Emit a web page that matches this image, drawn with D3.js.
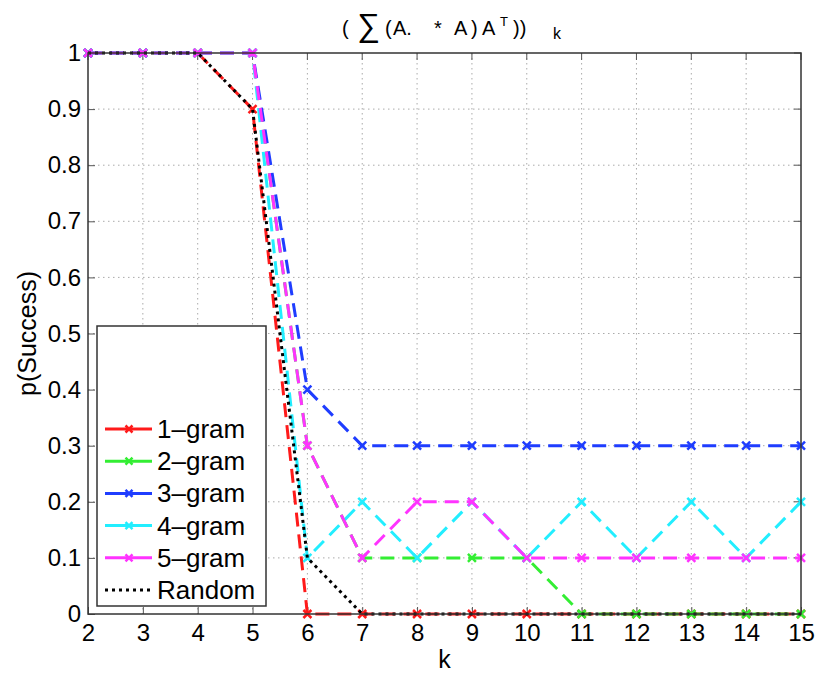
<!DOCTYPE html>
<html>
<head>
<meta charset="utf-8">
<script src="https://cdn.jsdelivr.net/npm/d3@7"></script>
<style>
  html, body { margin: 0; padding: 0; background: #fff; }
  svg { display: block; }
  text { font-family: "Liberation Sans", Arial, Helvetica, sans-serif; fill: #000; }
</style>
</head>
<body>
<svg id="chart" width="817" height="675"></svg>
<script>
// k values on the x axis
const kValues = [2, 3, 4, 5, 6, 7, 8, 9, 10, 11, 12, 13, 14, 15];

// Success probability for each n-gram model and the random baseline
const gram1 = [1, 1, 1, 0.9, 0, 0, 0, 0, 0, 0, 0, 0, 0, 0];
const gram2 = [1, 1, 1, 1, 0.3, 0.1, 0.1, 0.1, 0.1, 0, 0, 0, 0, 0];
const gram3 = [1, 1, 1, 1, 0.4, 0.3, 0.3, 0.3, 0.3, 0.3, 0.3, 0.3, 0.3, 0.3];
const gram4 = [1, 1, 1, 1, 0.1, 0.2, 0.1, 0.2, 0.1, 0.2, 0.1, 0.2, 0.1, 0.2];
const gram5 = [1, 1, 1, 1, 0.3, 0.1, 0.2, 0.2, 0.1, 0.1, 0.1, 0.1, 0.1, 0.1];
const randomBaseline = [1, 1, 1, 0.9, 0.1, 0, 0, 0, 0, 0, 0, 0, 0, 0];

const seriesNames = ["1\u2013gram", "2\u2013gram", "3\u2013gram", "4\u2013gram", "5\u2013gram", "Random"];
const seriesColors = ["#ff1a1a", "#33ee33", "#1f3dff", "#22eeff", "#ff33ff", "#000000"];

const yTicks = [0, 0.1, 0.2, 0.3, 0.4, 0.5, 0.6, 0.7, 0.8, 0.9, 1];
const yTickLabels = ["0", "0.1", "0.2", "0.3", "0.4", "0.5", "0.6", "0.7", "0.8", "0.9", "1"];

const series = [gram1, gram2, gram3, gram4, gram5, randomBaseline].map((vals, i) => ({
  name: seriesNames[i],
  color: seriesColors[i],
  dotted: i === 5,
  points: vals.map((v, j) => ({ k: kValues[j], v }))
}));

const svg = d3.select("#chart");
const margin = { left: 88, right: 16, top: 53, bottom: 61 };
const W = 817, H = 675;
const plotW = W - margin.left - margin.right;
const plotH = H - margin.top - margin.bottom;

const x = d3.scaleLinear().domain([2, 15]).range([0, plotW]);
const y = d3.scaleLinear().domain([0, 1]).range([plotH, 0]);

const g = svg.append("g").attr("transform", `translate(${margin.left},${margin.top})`);

// dotted grid
g.append("g").selectAll("line").data(kValues.slice(1, -1)).join("line")
  .attr("x1", d => x(d)).attr("x2", d => x(d))
  .attr("y1", 0).attr("y2", plotH)
  .attr("stroke", "#aaa").attr("stroke-width", 1).attr("stroke-dasharray", "1.5,3.5");
g.append("g").selectAll("line").data(yTicks.slice(1, -1)).join("line")
  .attr("x1", 0).attr("x2", plotW)
  .attr("y1", d => y(d)).attr("y2", d => y(d))
  .attr("stroke", "#aaa").attr("stroke-width", 1).attr("stroke-dasharray", "1.5,3.5");

// axes with inward ticks
const xAxis = d3.axisBottom(x).tickValues(kValues).tickSize(-7).tickPadding(10).tickFormat(d3.format("d"));
const yAxis = d3.axisLeft(y).tickValues(yTicks).tickSize(-7).tickPadding(7)
  .tickFormat((d, i) => yTickLabels[i]);

const gx = g.append("g").attr("transform", `translate(0,${plotH})`).call(xAxis);
const gy = g.append("g").call(yAxis);
[gx, gy].forEach(a => {
  a.select(".domain").remove();
  a.selectAll(".tick line").attr("stroke", "#555").attr("stroke-width", 1);
  a.selectAll(".tick text").style("font-size", "24px").attr("fill", "#000");
});

// mirrored ticks on top and right
g.append("g").selectAll("line").data(kValues).join("line")
  .attr("x1", d => x(d)).attr("x2", d => x(d)).attr("y1", 0).attr("y2", 7)
  .attr("stroke", "#555");
g.append("g").selectAll("line").data(yTicks).join("line")
  .attr("x1", plotW).attr("x2", plotW - 7).attr("y1", d => y(d)).attr("y2", d => y(d))
  .attr("stroke", "#555");

// series lines
const line = d3.line().x(d => x(d.k)).y(d => y(d.v));
const lines = g.append("g");
series.forEach(s => {
  lines.append("path").datum(s.points)
    .attr("d", line)
    .attr("fill", "none")
    .attr("stroke", s.color)
    .attr("stroke-width", 3)
    .attr("stroke-dasharray", s.dotted ? "3,4" : "14,8");
  if (!s.dotted) {
    lines.append("g").selectAll("path").data(s.points).join("path")
      .attr("transform", d => `translate(${x(d.k)},${y(d.v)})`)
      .attr("d", "M-4,-4L4,4M-4,4L4,-4")
      .attr("stroke", s.color).attr("stroke-width", 2.5);
  }
});

// plot box
g.append("rect").attr("x", 0).attr("y", 0).attr("width", plotW).attr("height", plotH)
  .attr("fill", "none").attr("stroke", "#333").attr("stroke-width", 1.5);

// legend
const lg = svg.append("g").attr("transform", "translate(97,326)");
lg.append("rect").attr("width", 169).attr("height", 280)
  .attr("fill", "#fff").attr("stroke", "#333").attr("stroke-width", 1.5);
series.forEach((s, i) => {
  const yy = 103 + i * 32.2;
  lg.append("line").attr("x1", 8).attr("x2", 55).attr("y1", yy).attr("y2", yy)
    .attr("stroke", s.color).attr("stroke-width", 3)
    .attr("stroke-dasharray", s.dotted ? "3,4" : null);
  if (!s.dotted) {
    lg.append("path").attr("transform", `translate(32,${yy})`)
      .attr("d", "M-3.5,-3.5L3.5,3.5M-3.5,3.5L3.5,-3.5")
      .attr("stroke", s.color).attr("stroke-width", 2.5);
  }
  lg.append("text").attr("x", 60).attr("y", yy + 9).style("font-size", "26px").text(s.name);
});

// axis titles
svg.append("text").attr("x", margin.left + plotW / 2).attr("y", 668)
  .attr("text-anchor", "middle").style("font-size", "25px").text("k");
svg.append("text").attr("transform", `translate(36,${margin.top + plotH / 2}) rotate(-90)`)
  .attr("text-anchor", "middle").style("font-size", "25px").text("p(Success)");

// title: ( Σ(A. * A) A^T ))_k
const title = svg.append("text").attr("y", 35).style("font-size", "20px");
title.append("tspan").attr("x", 342).text("(");
title.append("tspan").attr("x", 357).attr("dy", 1).style("font-size", "32px").style("font-weight", "300").text("\u2211");
title.append("tspan").attr("x", 385).attr("dy", -1).text("(");
title.append("tspan").attr("x", 393).text("A.");
title.append("tspan").attr("x", 434).text("*");
title.append("tspan").attr("x", 454).text("A");
title.append("tspan").attr("x", 471).text(")");
title.append("tspan").attr("x", 482).text("A");
title.append("tspan").attr("x", 500).attr("dy", -9).style("font-size", "13px").text("T");
title.append("tspan").attr("x", 513).attr("dy", 9).text("))");
title.append("tspan").attr("x", 553).attr("dy", 4).style("font-size", "16px").text("k");
</script>
</body>
</html>
